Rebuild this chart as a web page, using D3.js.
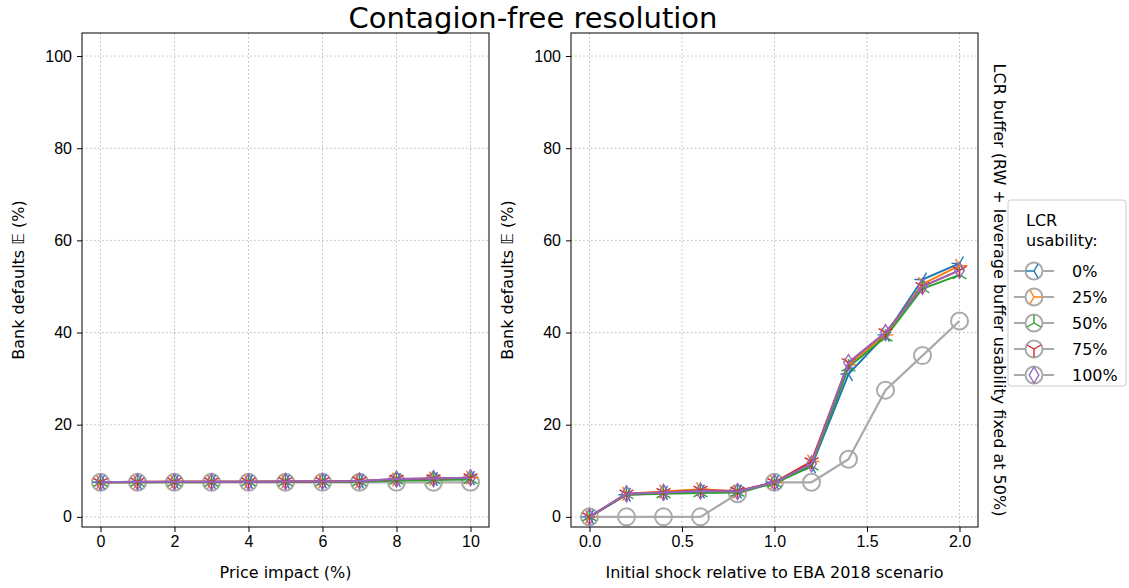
<!DOCTYPE html>
<html><head><meta charset="utf-8">
<script src="https://cdn.jsdelivr.net/npm/d3@7"></script>
<style>
body{margin:0;background:#fff;font-family:"DejaVu Sans",sans-serif;}
.grid line{stroke:#b0b0b0;stroke-dasharray:1.5,2.5;stroke-width:0.9}
.tick text{font-size:16px;fill:#000}
</style></head><body>
<svg id="c" width="1129" height="588"></svg>
<script>
var labels = ["0%", "25%", "50%", "75%", "100%"];
var colors = ["#1f77b4", "#ff7f0e", "#2ca02c", "#d62728", "#9467bd"];
var markers = ["tri_left", "tri_right", "tri_up", "tri_down", "thin_diamond"];

var priceX = [0, 1, 2, 3, 4, 5, 6, 7, 8, 9, 10];
var priceGray = [7.5, 7.5, 7.5, 7.5, 7.5, 7.5, 7.5, 7.5, 7.5, 7.5, 7.5];
var priceSeries = [
    [7.5, 7.5, 7.6, 7.6, 7.6, 7.6, 7.7, 7.7, 8.0, 8.2, 8.4],
    [7.5, 7.5, 7.6, 7.6, 7.6, 7.6, 7.7, 7.7, 8.1, 8.3, 8.5],
    [7.5, 7.5, 7.5, 7.5, 7.6, 7.6, 7.6, 7.6, 7.9, 8.0, 8.1],
    [7.5, 7.6, 7.6, 7.6, 7.6, 7.7, 7.7, 7.8, 8.2, 8.3, 8.5],
    [7.5, 7.6, 7.6, 7.6, 7.6, 7.7, 7.7, 7.8, 8.2, 8.3, 8.5]
];

var shockX = [0, 0.2, 0.4, 0.6, 0.8, 1.0, 1.2, 1.4, 1.6, 1.8, 2.0];
var shockGray = [0, 0, 0, 0, 5, 7.5, 7.5, 12.5, 27.5, 35, 42.5];
var shockSeries = [
    [0, 4.8, 5.2, 5.5, 5.5, 7.5, 11, 31, 39.5, 51.5, 55],
    [0, 5, 5.5, 6, 5.5, 7.5, 12, 33, 39.5, 50.5, 54.5],
    [0, 4.8, 5, 5.2, 5.3, 7.3, 11, 32.5, 39, 49.5, 52.5],
    [0, 5, 5.3, 5.8, 5.6, 7.5, 12, 33.5, 40, 50, 53.5],
    [0, 5, 5.3, 5.6, 5.5, 7.5, 11.5, 33.5, 40, 50, 53.5]
];

var svg = d3.select("#c");
var pTop = 33, pBottom = 527;

function markerPath(m, s) {
    var r = s / 2;
    function spokes(angles) {
        return angles.map(function (a) {
            var t = a * Math.PI / 180;
            return "M0,0L" + (r * Math.cos(t)) + "," + (-r * Math.sin(t));
        }).join("");
    }
    if (m == "tri_left") return spokes([180, 60, -60]);
    if (m == "tri_right") return spokes([0, 120, 240]);
    if (m == "tri_up") return spokes([90, 210, 330]);
    if (m == "tri_down") return spokes([270, 30, 150]);
    return "M0," + (-r) + "L" + (r * 0.6) + ",0L0," + r + "L" + (-r * 0.6) + ",0Z";
}

function panel(left, right, xdom, xticks, fmt, xlabel, xs, gray, series) {
    var x = d3.scaleLinear().domain(xdom).range([left, right]);
    var y = d3.scaleLinear().domain([-2.2, 105]).range([pBottom, pTop]);
    var g = svg.append("g");
    g.append("g").attr("class", "grid").selectAll("line").data(xticks).enter().append("line")
        .attr("x1", x).attr("x2", x).attr("y1", pTop).attr("y2", pBottom);
    g.append("g").attr("class", "grid").selectAll("line").data([0, 20, 40, 60, 80, 100]).enter().append("line")
        .attr("y1", y).attr("y2", y).attr("x1", left).attr("x2", right);

    var line = d3.line().x(function (d, i) { return x(xs[i]); }).y(function (d) { return y(d); });
    g.append("path").attr("d", line(gray)).attr("fill", "none").attr("stroke", "#aaaaaa").attr("stroke-width", 2.2);
    g.selectAll(".circ").data(gray).enter().append("circle")
        .attr("cx", function (d, i) { return x(xs[i]); }).attr("cy", y).attr("r", 8.5)
        .attr("fill", "none").attr("stroke", "#aaaaaa").attr("stroke-width", 2);
    series.forEach(function (s, k) {
        g.append("path").attr("d", line(s)).attr("fill", "none").attr("stroke", colors[k]).attr("stroke-width", 2);
        g.selectAll(".m" + k).data(s).enter().append("path")
            .attr("transform", function (d, i) { return "translate(" + x(xs[i]) + "," + y(d) + ")"; })
            .attr("d", markerPath(markers[k], 16)).attr("fill", "none")
            .attr("stroke", colors[k]).attr("stroke-width", 1.4);
    });

    g.append("rect").attr("x", left).attr("y", pTop).attr("width", right - left).attr("height", pBottom - pTop)
        .attr("fill", "none").attr("stroke", "#000").attr("stroke-width", 1);
    g.append("g").attr("transform", "translate(0," + pBottom + ")")
        .call(d3.axisBottom(x).tickValues(xticks).tickFormat(fmt).tickSizeOuter(0).tickSize(5).tickPadding(4))
        .call(function (a) { a.select(".domain").remove(); });
    g.append("g").attr("transform", "translate(" + left + ",0)")
        .call(d3.axisLeft(y).tickValues([0, 20, 40, 60, 80, 100]).tickSizeOuter(0).tickSize(5).tickPadding(5))
        .call(function (a) { a.select(".domain").remove(); });
    g.append("text").attr("x", (left + right) / 2).attr("y", 578).attr("text-anchor", "middle")
        .attr("font-size", 16).text(xlabel);
    g.append("text").attr("transform", "translate(" + (left - 58) + "," + ((pTop + pBottom) / 2) + ") rotate(-90)")
        .attr("text-anchor", "middle").attr("font-size", 16).text("Bank defaults \uD835\uDD3C (%)");
}

panel(82, 489, [-0.5, 10.5], [0, 2, 4, 6, 8, 10], d3.format("d"), "Price impact (%)", priceX, priceGray, priceSeries);
panel(571, 978, [-0.1, 2.1], [0, 0.5, 1, 1.5, 2], d3.format(".1f"), "Initial shock relative to EBA 2018 scenario", shockX, shockGray, shockSeries);

svg.append("text").attr("x", 533).attr("y", 28).attr("text-anchor", "middle").attr("font-size", 29)
    .text("Contagion-free resolution");
svg.append("text").attr("transform", "translate(994,290) rotate(90)").attr("text-anchor", "middle")
    .attr("font-size", 16).text("LCR buffer (RW + leverage buffer usability fixed at 50%)");

// legend
var lg = svg.append("g").attr("transform", "translate(1008,200)");
lg.append("rect").attr("width", 118).attr("height", 186).attr("rx", 3).attr("fill", "#fff")
    .attr("stroke", "#ccc");
lg.append("text").attr("x", 18).attr("y", 26).attr("font-size", 16).text("LCR");
lg.append("text").attr("x", 18).attr("y", 46).attr("font-size", 16).text("usability:");
labels.forEach(function (l, k) {
    var yy = 71 + k * 26;
    lg.append("line").attr("x1", 6).attr("x2", 46).attr("y1", yy).attr("y2", yy).attr("stroke", "#aaaaaa").attr("stroke-width", 2.2);
    lg.append("circle").attr("cx", 26).attr("cy", yy).attr("r", 8.5).attr("fill", "#fff").attr("stroke", "#aaaaaa").attr("stroke-width", 2);
    lg.append("path").attr("transform", "translate(26," + yy + ")").attr("d", markerPath(markers[k], 16))
        .attr("fill", "none").attr("stroke", colors[k]).attr("stroke-width", 1.4);
    lg.append("text").attr("x", 64).attr("y", yy + 6).attr("font-size", 16).text(l);
});
</script></body></html>
